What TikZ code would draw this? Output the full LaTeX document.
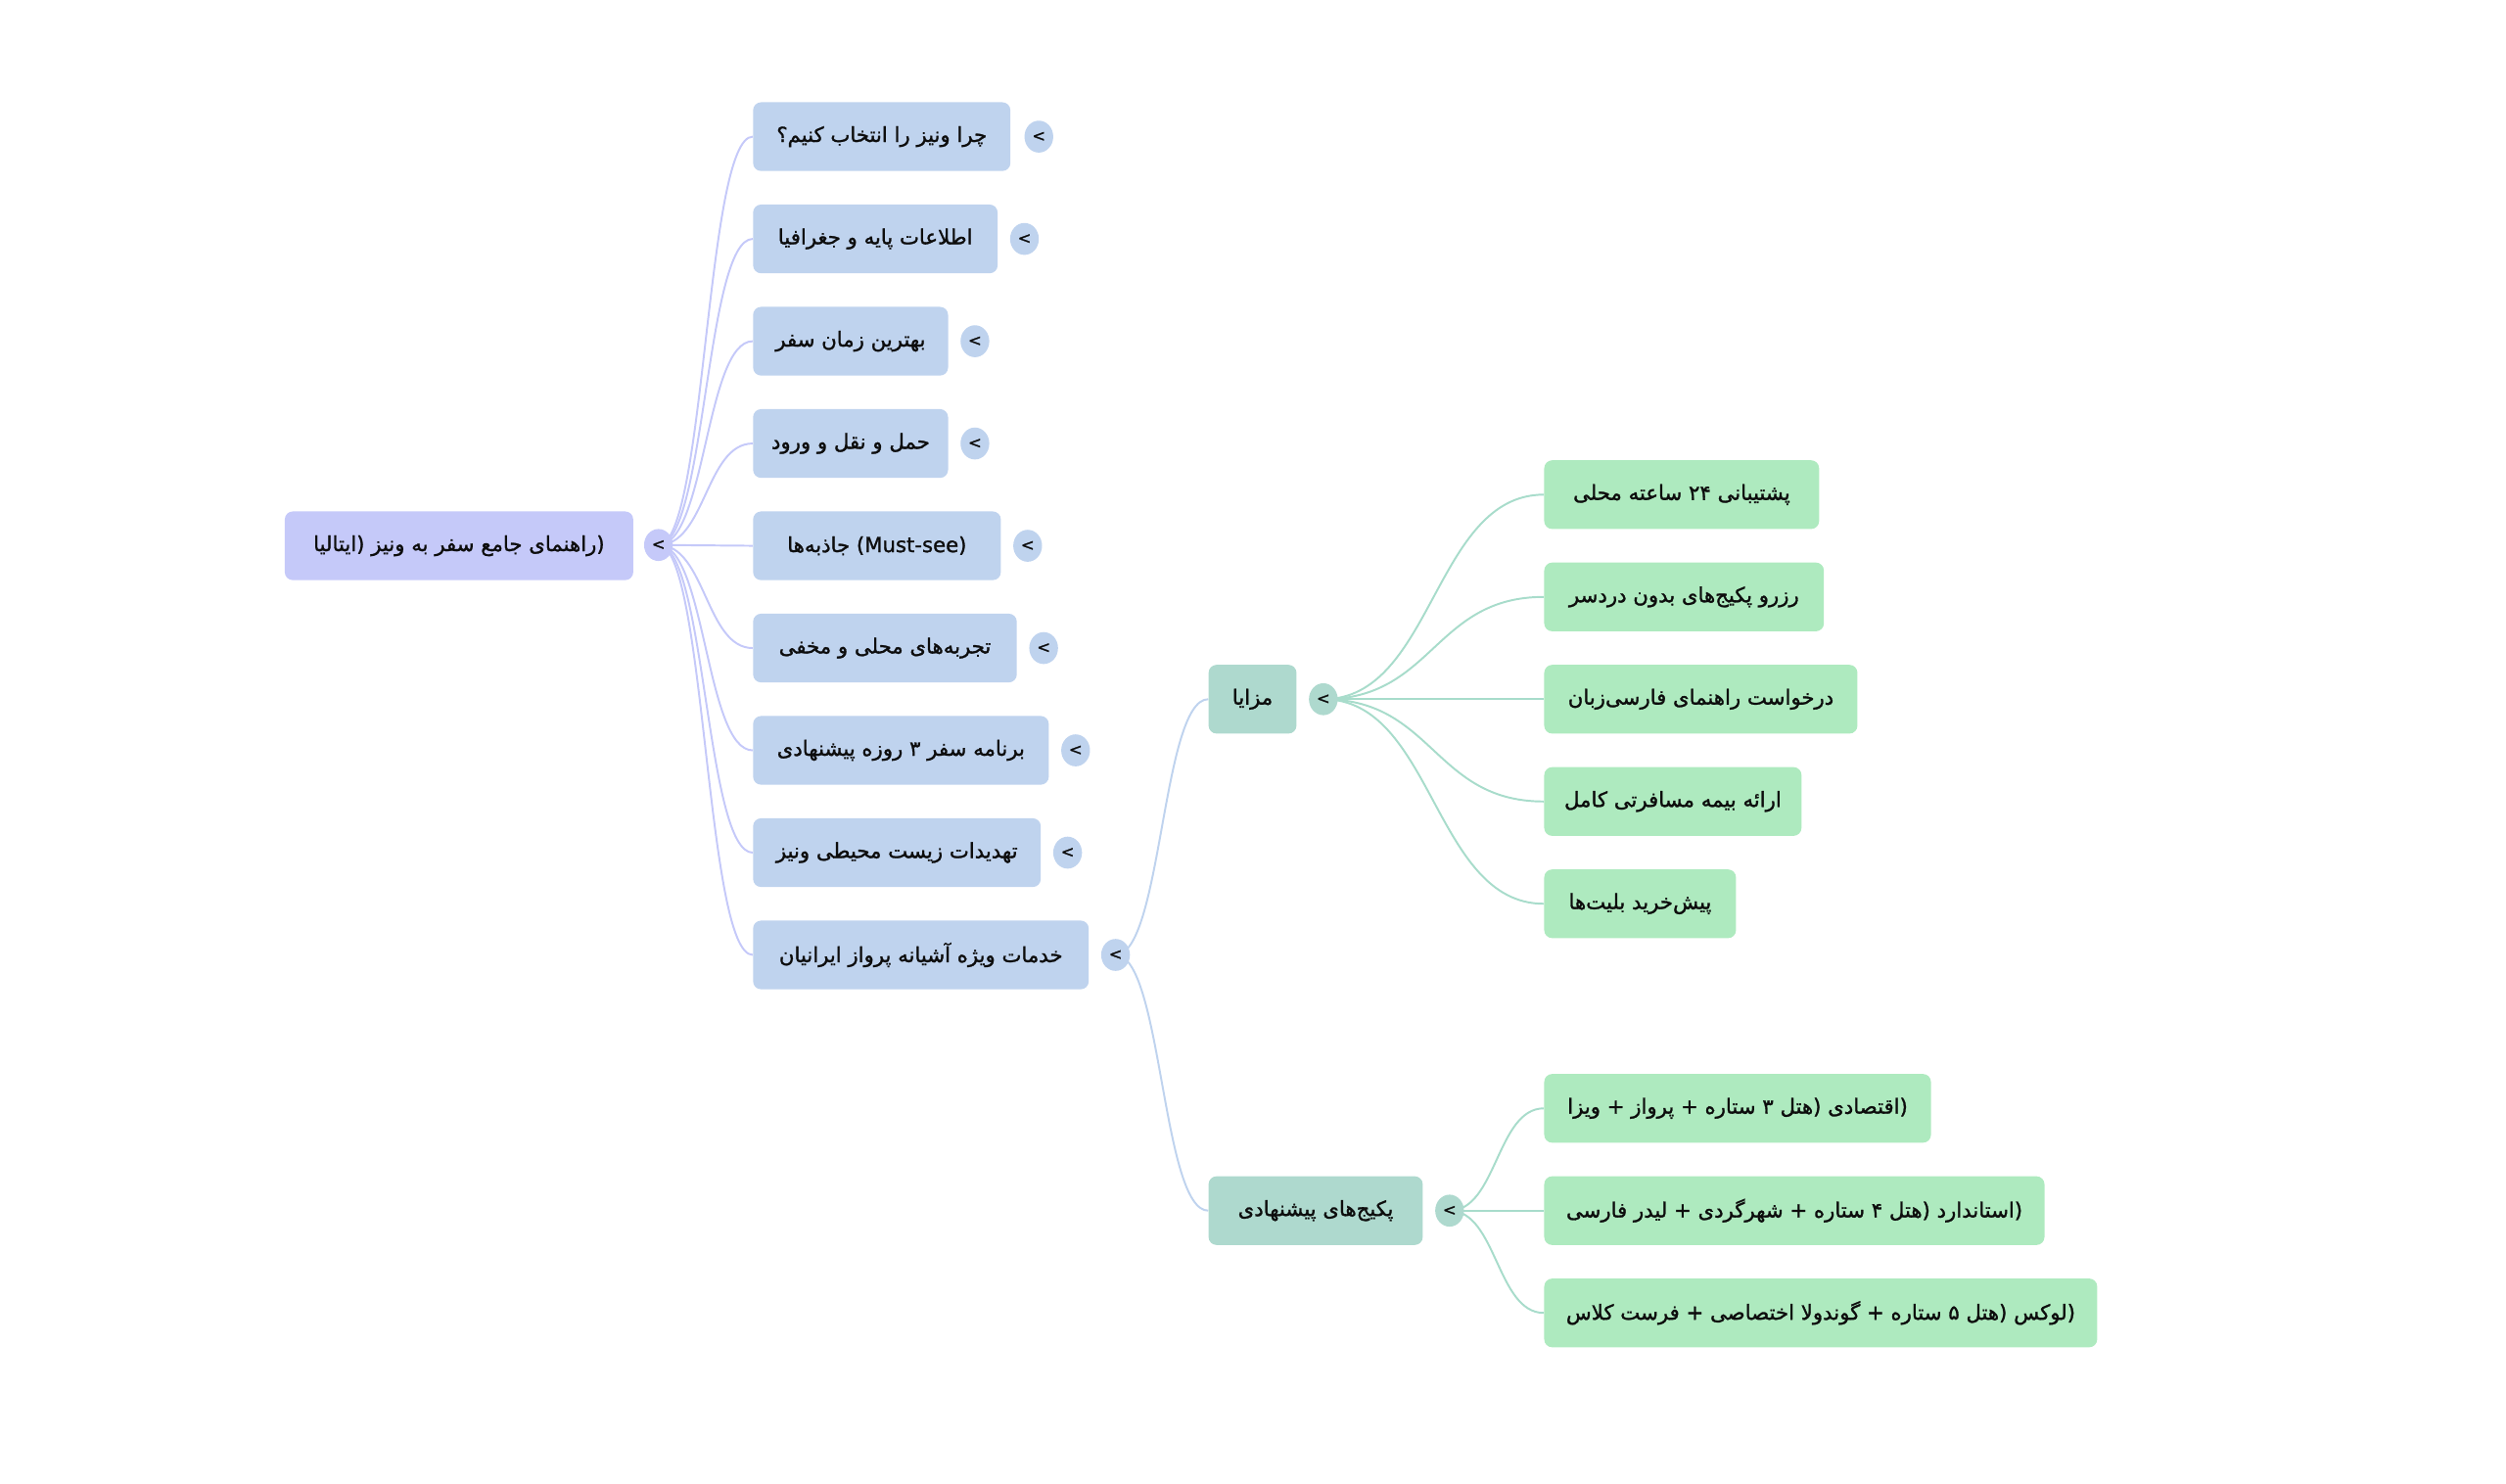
\documentclass[tikz,border=0pt]{standalone}
\usepackage{fontspec}
\setmainfont[FakeBold=1.3]{DejaVu Sans}
\newfontfamily\arabicfont[Script=Arabic,FakeBold=1.3]{DejaVu Sans}
\TeXXeTstate=1
\usetikzlibrary{calc,shapes.geometric}
\pgfdeclarelayer{background}
\pgfsetlayers{background,main}
\definecolor{rootc}{HTML}{C5C9F9}
\definecolor{bluec}{HTML}{BFD3EE}
\definecolor{tealc}{HTML}{AED9CE}
\definecolor{greenc}{HTML}{AEEABF}
\definecolor{rootlinkc}{HTML}{C5C9F9}
\definecolor{bluelinkc}{HTML}{BFD3EE}
\definecolor{teallinkc}{HTML}{A8DCCB}
\definecolor{txt}{HTML}{0D0D0D}
\newcommand\fa[1]{{\arabicfont\beginR #1\endR}}
\newcommand\linkto[3]{\draw[#1] let \p1=(#2), \p2=(#3) in (\p1) .. controls ({(\x1+\x2)/2},\y1) and ({(\x1+\x2)/2},\y2) .. (\p2);}
\tikzset{
  mbox/.style={rounded corners=5pt, minimum height=43pt, inner sep=0pt, anchor=west, text=txt, align=center},
  rootbox/.style={mbox, fill=rootc},
  bluebox/.style={mbox, fill=bluec},
  tealbox/.style={mbox, fill=tealc},
  greenbox/.style={mbox, fill=greenc},
  dotnode/.style={ellipse, minimum width=18pt, minimum height=20pt, inner sep=0pt, text=txt, font=\fontsize{10}{10}\selectfont},
  rootdot/.style={dotnode, fill=rootc},
  bluedot/.style={dotnode, fill=bluec},
  tealdot/.style={dotnode, fill=tealc},
  rootlink/.style={draw=rootlinkc, line width=1.2pt},
  bluelink/.style={draw=bluelinkc, line width=1.2pt},
  teallink/.style={draw=teallinkc, line width=1.2pt},
}
\begin{document}
\begin{tikzpicture}[x=1pt,y=-1pt,font=\fontsize{13}{15}\selectfont]
\useasboundingbox (0,0) rectangle (1568,928);
% root
\node[rootbox, minimum width=218pt] (r) at (178,341.5) {\fa{ایتالیا})\ \fa{راهنمای جامع سفر به ونیز})};
\node[rootdot] (rc) at (412,341) {<};
% level 1
\node[bluebox, minimum width=161pt] (b1) at (471,85.5) {\fa{چرا ونیز را انتخاب کنیم؟}};
\node[bluedot] (b1c) at (650,85.5) {<};
\node[bluebox, minimum width=153pt] (b2) at (471,149.5) {\fa{اطلاعات پایه و جغرافیا}};
\node[bluedot] (b2c) at (641,149.5) {<};
\node[bluebox, minimum width=122pt] (b3) at (471,213.5) {\fa{بهترین زمان سفر}};
\node[bluedot] (b3c) at (610,213.5) {<};
\node[bluebox, minimum width=122pt] (b4) at (471,277.5) {\fa{حمل و نقل و ورود}};
\node[bluedot] (b4c) at (610,277.5) {<};
\node[bluebox, minimum width=155pt] (b5) at (471,341.5) {\fa{جاذبه‌ها} (Must-see)};
\node[bluedot] (b5c) at (643,341.5) {<};
\node[bluebox, minimum width=165pt] (b6) at (471,405.5) {\fa{تجربه‌های محلی و مخفی}};
\node[bluedot] (b6c) at (653,405.5) {<};
\node[bluebox, minimum width=185pt] (b7) at (471,469.5) {\fa{برنامه سفر ۳ روزه پیشنهادی}};
\node[bluedot] (b7c) at (673,469.5) {<};
\node[bluebox, minimum width=180pt] (b8) at (471,533.5) {\fa{تهدیدات زیست محیطی ونیز}};
\node[bluedot] (b8c) at (668,533.5) {<};
\node[bluebox, minimum width=210pt] (b9) at (471,597.5) {\fa{خدمات ویژه آشیانه پرواز ایرانیان}};
\node[bluedot] (b9c) at (698,597.5) {<};
% level 2
\node[tealbox, minimum width=55pt] (t1) at (756,437.5) {\fa{مزایا}};
\node[tealdot] (t1c) at (828,437.5) {<};
\node[tealbox, minimum width=134pt] (t2) at (756,757.5) {\fa{پکیج‌های پیشنهادی}};
\node[tealdot] (t2c) at (907,757.5) {<};
% level 3
\node[greenbox, minimum width=172pt] (g1) at (966,309.5) {\fa{پشتیبانی ۲۴ ساعته محلی}};
\node[greenbox, minimum width=175pt] (g2) at (966,373.5) {\fa{رزرو پکیج‌های بدون دردسر}};
\node[greenbox, minimum width=196pt] (g3) at (966,437.5) {\fa{درخواست راهنمای فارسی‌زبان}};
\node[greenbox, minimum width=161pt] (g4) at (966,501.5) {\fa{ارائه بیمه مسافرتی کامل}};
\node[greenbox, minimum width=120pt] (g5) at (966,565.5) {\fa{پیش‌خرید بلیت‌ها}};
\node[greenbox, minimum width=242pt] (g6) at (966,693.5) {\fa{هتل ۳ ستاره + پرواز + ویزا})\ \fa{اقتصادی})};
\node[greenbox, minimum width=313pt] (g7) at (966,757.5) {\fa{هتل ۴ ستاره + شهرگردی + لیدر فارسی})\ \fa{استاندارد})};
\node[greenbox, minimum width=346pt] (g8) at (966,821.5) {\fa{هتل ۵ ستاره + گوندولا اختصاصی + فرست کلاس})\ \fa{لوکس})};
% links
\begin{pgfonlayer}{background}
\foreach \nd in {b1,b2,b3,b4,b5,b6,b7,b8,b9}{\linkto{rootlink}{rc.center}{\nd.west}}
\linkto{bluelink}{b9c.center}{t1.west}
\linkto{bluelink}{b9c.center}{t2.west}
\foreach \nd in {g1,g2,g3,g4,g5}{\linkto{teallink}{t1c.center}{\nd.west}}
\foreach \nd in {g6,g7,g8}{\linkto{teallink}{t2c.center}{\nd.west}}
\end{pgfonlayer}
\end{tikzpicture}
\end{document}
